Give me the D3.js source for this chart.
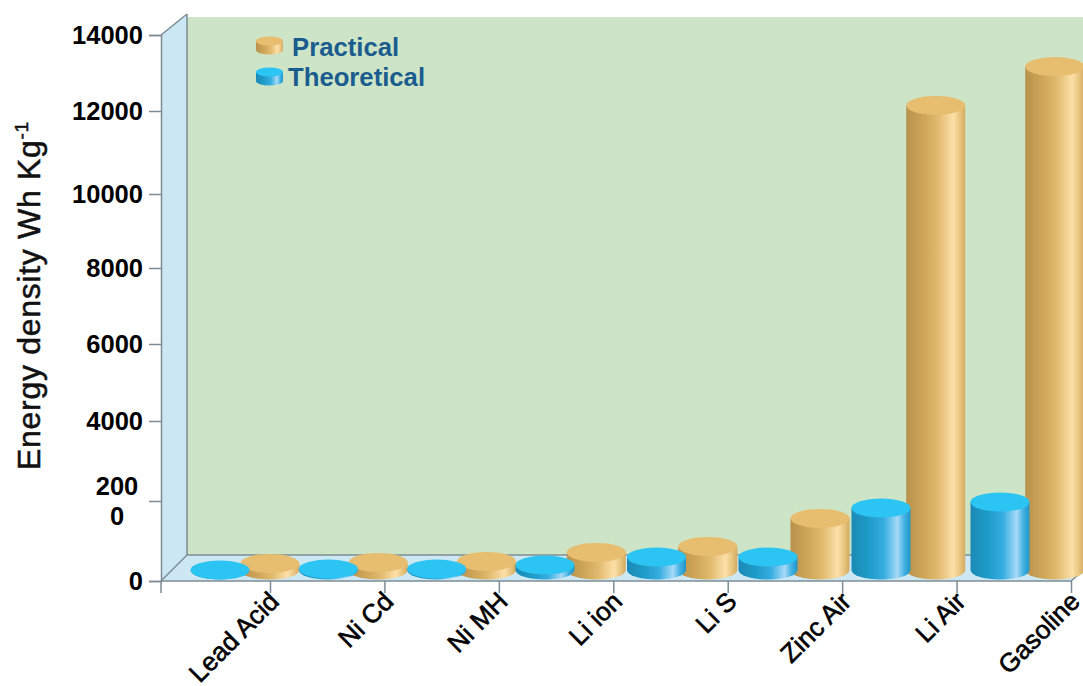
<!DOCTYPE html>
<html>
<head>
<meta charset="utf-8">
<script src="https://cdn.jsdelivr.net/npm/d3@7"></script>
<style>
  body { margin: 0; background: #fff; }
  svg { display: block; font-family: "Liberation Sans", Arial, sans-serif; }
</style>
</head>
<body>
<div id="chart"></div>
<script>
// Energy density per battery type, in Wh/kg
var categories = ["Lead Acid", "Ni Cd", "Ni MH", "Li ion", "Li S", "Zinc Air", "Li Air", "Gasoline"];
var theoretical = [0, 25, 25, 125, 325, 325, 1550, 1700];
var practical = [165, 190, 215, 440, 590, 1290, 11870, 12880];
var yTicks = [0, 2000, 4000, 6000, 8000, 10000, 12000, 14000];

var width = 1083;
var height = 686;
var axisColor = "#7d8c94";

var svg = d3.select("#chart").append("svg")
  .attr("width", width)
  .attr("height", height);

// The axis is not evenly spaced, so the scale has one segment per tick
var y = d3.scaleLinear().domain(yTicks).range([581, 501, 421, 344, 268, 194, 111, 35]);

// Cylinders stand a little behind the front edge of the floor
var barLift = 11;

// Slots widen towards the right; a practical bar sits 0.46 of a slot after its theoretical bar
var slot = d3.scaleLinear().domain([0, 3, 5, 6, 7]).range([220, 545, 768, 881, 1000]);
var slotShift = { Theoretical: 0, Practical: 0.46 };
var xTick = d3.scalePoint().domain(categories).range([270, 1071]);

// Horizontal shading for the cylinder sides
var defs = svg.append("defs");
function addGradient(id, stops) {
  var g = defs.append("linearGradient").attr("id", id);
  stops.forEach(function (s) {
    g.append("stop").attr("offset", s[0]).attr("stop-color", s[1]);
  });
}
addGradient("goldSide", [[0, "#b8914c"], [0.3, "#cfa659"], [0.55, "#e2bb70"], [0.8, "#fde0a8"], [0.92, "#e6c27c"], [1, "#d2aa60"]]);
addGradient("blueSide", [[0, "#1b89b5"], [0.3, "#1f9cc8"], [0.55, "#35ade0"], [0.78, "#a6daf8"], [0.9, "#3fb0e2"], [1, "#1f96c6"]]);

// Walls and floor
var wallBack = [[187, 17], [1083, 17], [1083, 555], [187, 555]];
var wallSide = [[161, 35], [187, 14], [187, 555], [161, 581]];
var floor = [[161, 581], [187, 555], [1083, 555], [1083, 571], [1071, 581]];
var polyLine = d3.line();

svg.append("path").attr("d", polyLine(wallBack) + "Z").attr("fill", "#cde5c6");
svg.append("path").attr("d", polyLine(wallSide) + "Z").attr("fill", "#cbe7f4");
svg.append("path").attr("d", polyLine(floor) + "Z").attr("fill", "#cde7f3");

var edges = [
  [[161, 35], [187, 14]],
  [[187, 14], [187, 555]],
  [[187, 555], [1083, 555]],
  [[161, 581], [187, 555]],
  [[161, 581], [1071, 581]],
  [[1071, 581], [1083, 571]]
];
svg.selectAll(".edge").data(edges).enter().append("path")
  .attr("class", "edge")
  .attr("d", polyLine)
  .attr("fill", "none")
  .attr("stroke", axisColor)
  .attr("stroke-width", 1.5);

// Y axis
var yAxis = svg.append("g")
  .attr("transform", "translate(161,0)")
  .call(d3.axisLeft(y).tickValues(yTicks).tickSize(12).tickPadding(6).tickFormat(d3.format("d")));
yAxis.selectAll("path, line").attr("stroke", axisColor).attr("stroke-width", 1.5);
yAxis.selectAll("text")
  .attr("fill", "#000")
  .style("font-size", "25.5px")
  .style("font-weight", "bold")
  .attr("dy", "0.34em");

// 2000 does not fit on one line, so it breaks after the third digit
yAxis.selectAll("text").filter(function (d) { return d === 2000; })
  .each(function () {
    var t = d3.select(this).text("").attr("text-anchor", "middle").attr("x", -44).attr("dy", null);
    t.append("tspan").attr("x", -44).attr("y", -7).text("200");
    t.append("tspan").attr("x", -44).attr("y", 23).text("0");
  });

// X axis with slanted labels
var xAxis = svg.append("g")
  .attr("transform", "translate(0,581)")
  .call(d3.axisBottom(xTick).tickSize(12).tickSizeOuter(0));
xAxis.select(".domain").remove();
xAxis.selectAll("line").attr("stroke", axisColor).attr("stroke-width", 1.5);
xAxis.selectAll("text")
  .attr("fill", "#000")
  .attr("stroke", "#000")
  .attr("stroke-width", 0.6)
  .attr("text-anchor", "end")
  .attr("x", 0).attr("y", 0).attr("dy", 0)
  .attr("transform", "translate(10,22) rotate(-45)")
  .style("font-size", "26px");

svg.append("line")
  .attr("x1", 161).attr("x2", 161)
  .attr("y1", 581).attr("y2", 593)
  .attr("stroke", axisColor).attr("stroke-width", 1.5);

// Axis title
var yTitle = svg.append("text")
  .attr("transform", "translate(39.5,470) rotate(-90)")
  .attr("fill", "#111")
  .attr("stroke", "#111")
  .attr("stroke-width", 0.5)
  .style("font-size", "32px")
  .style("letter-spacing", "0.7px")
  .text("Energy density Wh Kg");
yTitle.append("tspan").attr("dy", -12).style("font-size", "19px").text("-1");

// One cylinder: side wall, then the lid on top
function cylinderSide(cx, top, base, rx, ry) {
  return "M" + (cx - rx) + "," + top +
    "L" + (cx - rx) + "," + base +
    "A" + rx + "," + ry + " 0 0 0 " + (cx + rx) + "," + base +
    "L" + (cx + rx) + "," + top + "Z";
}

function drawCylinders(name, values, sideFill, topFill) {
  var rx = 29.5, ry = 9.5;
  var base = y(0) - barLift;
  var cx = function (d, i) { return slot(i + slotShift[name]); };
  var group = svg.append("g").attr("class", name);
  group.selectAll("path").data(values).enter().append("path")
    .attr("d", function (d, i) { return cylinderSide(cx(d, i), y(d) - barLift, base, rx, ry); })
    .attr("fill", sideFill);
  group.selectAll("ellipse").data(values).enter().append("ellipse")
    .attr("cx", cx)
    .attr("cy", function (d) { return y(d) - barLift; })
    .attr("rx", rx)
    .attr("ry", ry)
    .attr("fill", topFill);
}

// The blue ones sit in front where neighbours overlap
drawCylinders("Practical", practical, "url(#goldSide)", "#e7bd70");
drawCylinders("Theoretical", theoretical, "url(#blueSide)", "#2cc4f3");

// Legend
var legendItems = [
  { label: "Practical", textX: 292, textY: 56, iconY: 41, side: "url(#goldSide)", top: "#e7bd70" },
  { label: "Theoretical", textX: 288, textY: 86, iconY: 72, side: "url(#blueSide)", top: "#2cc4f3" }
];
var legend = svg.selectAll(".legend").data(legendItems).enter().append("g").attr("class", "legend");
legend.append("path")
  .attr("d", function (d) { return cylinderSide(269.5, d.iconY, d.iconY + 9, 13.5, 4.5); })
  .attr("fill", function (d) { return d.side; });
legend.append("ellipse")
  .attr("cx", 269.5)
  .attr("cy", function (d) { return d.iconY; })
  .attr("rx", 13.5)
  .attr("ry", 4.5)
  .attr("fill", function (d) { return d.top; });
legend.append("text")
  .attr("x", function (d) { return d.textX; })
  .attr("y", function (d) { return d.textY; })
  .attr("fill", "#1a5c8e")
  .style("font-size", "25.7px")
  .style("font-weight", "bold")
  .text(function (d) { return d.label; });
</script>
</body>
</html>
